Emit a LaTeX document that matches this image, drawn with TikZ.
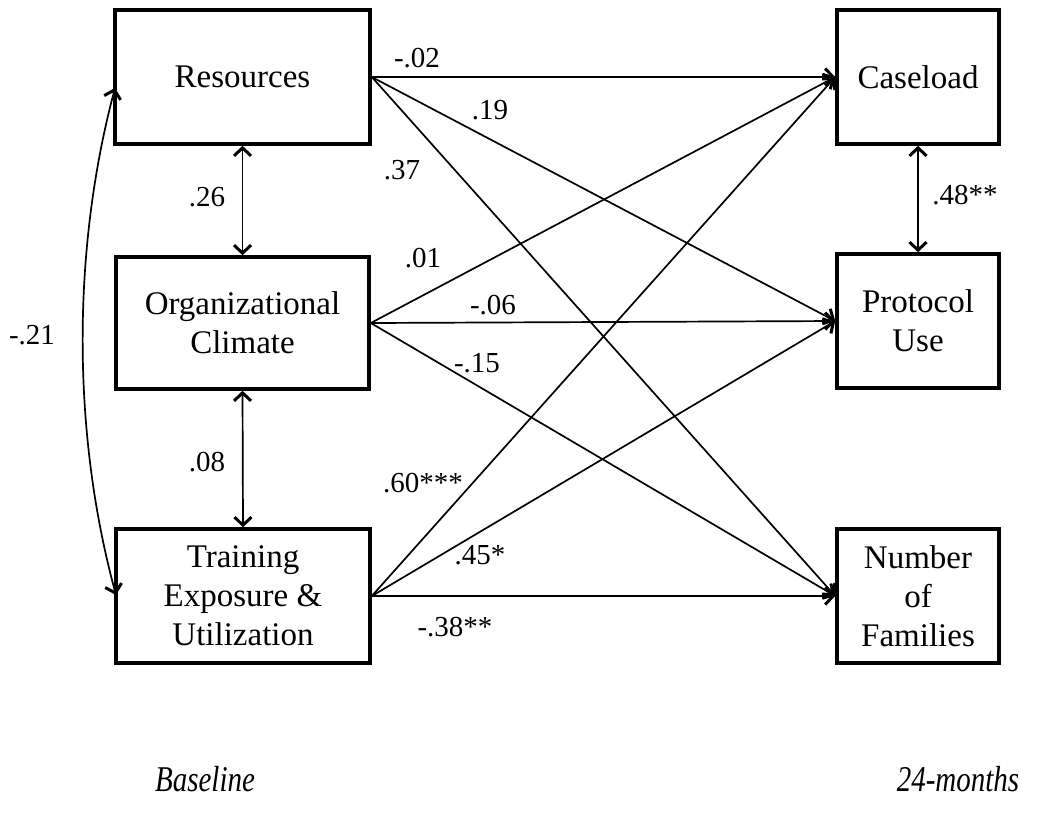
\documentclass[tikz,border=0pt]{standalone}
\usepackage{fontspec}
\setmainfont{Liberation Serif}
\usetikzlibrary{arrows.meta}
\tikzset{
  var/.style={draw, line width=3.6pt, rectangle, inner sep=0pt, align=center,
              font=\fontsize{33}{39}\selectfont},
  barb/.tip={Straight Barb[length=8pt,width=17pt,line width=3pt]},
  path/.style={line width=1.7pt, -barb},
  cov/.style={line width=1.7pt, barb-barb},
  coef/.style={font=\fontsize{29}{33}\selectfont, inner sep=0pt},
  wave/.style={font=\fontsize{29}{33}\selectfont\itshape, inner sep=0pt, yscale=1.25}
}
\begin{document}
\begin{tikzpicture}[x=1pt, y=-1pt]
  \useasboundingbox (0,0) rectangle (1048,812);

  % baseline measures
  \node[var, minimum width=255pt, minimum height=134pt] (res) at (242.5,77) {Resources};
  \node[var, minimum width=253pt, minimum height=132pt] (org) at (242.5,323) {Organizational\\Climate};
  \node[var, minimum width=254pt, minimum height=134pt] (trn) at (243,596) {Training\\Exposure \&\\Utilization};

  % 24-month outcomes
  \node[var, minimum width=162pt, minimum height=134pt] (cas) at (918,77) {Caseload};
  \node[var, minimum width=162pt, minimum height=134pt] (pro) at (918,321) {Protocol\\Use};
  \node[var, minimum width=162pt, minimum height=134pt] (fam) at (918,596) {Number\\of\\Families};

  % correlations among predictors and outcomes
  \draw[cov] (res.south) -- (org.north);
  \draw[cov] (org.south) -- (trn.north);
  \draw[cov] (cas.south) -- (pro.north);
  \coordinate (rl) at (115,88);
  \coordinate (tl) at (116,595);
  \draw[cov] (rl) .. controls (72,250) and (72,433) .. (tl);

  % regression paths
  \foreach \s in {res,org,trn}
    \foreach \t in {cas,pro,fam}
      \draw[path] (\s.east) -- (\t.west);

  % coefficients
  \node[coef] (c1) at (417,58) {-.02};
  \node[coef] (c2) at (490,110) {.19};
  \node[coef] (c3) at (402,170) {.37};
  \node[coef] (c4) at (423,258) {.01};
  \node[coef] (c5) at (493,305) {-.06};
  \node[coef] (c6) at (477,363) {-.15};
  \node[coef] (c7) at (423,483) {.60***};
  \node[coef] (c8) at (480,555) {.45*};
  \node[coef] (c9) at (455,627) {-.38**};
  \node[coef] (r1) at (207,197) {.26};
  \node[coef] (r2) at (207,462) {.08};
  \node[coef] (r3) at (965,195) {.48**};
  \node[coef] (r4) at (32,335) {-.21};

  % time points
  \node[wave] (t0) at (205,779) {Baseline};
  \node[wave] (t1) at (958,779) {24-months};
\end{tikzpicture}
\end{document}
